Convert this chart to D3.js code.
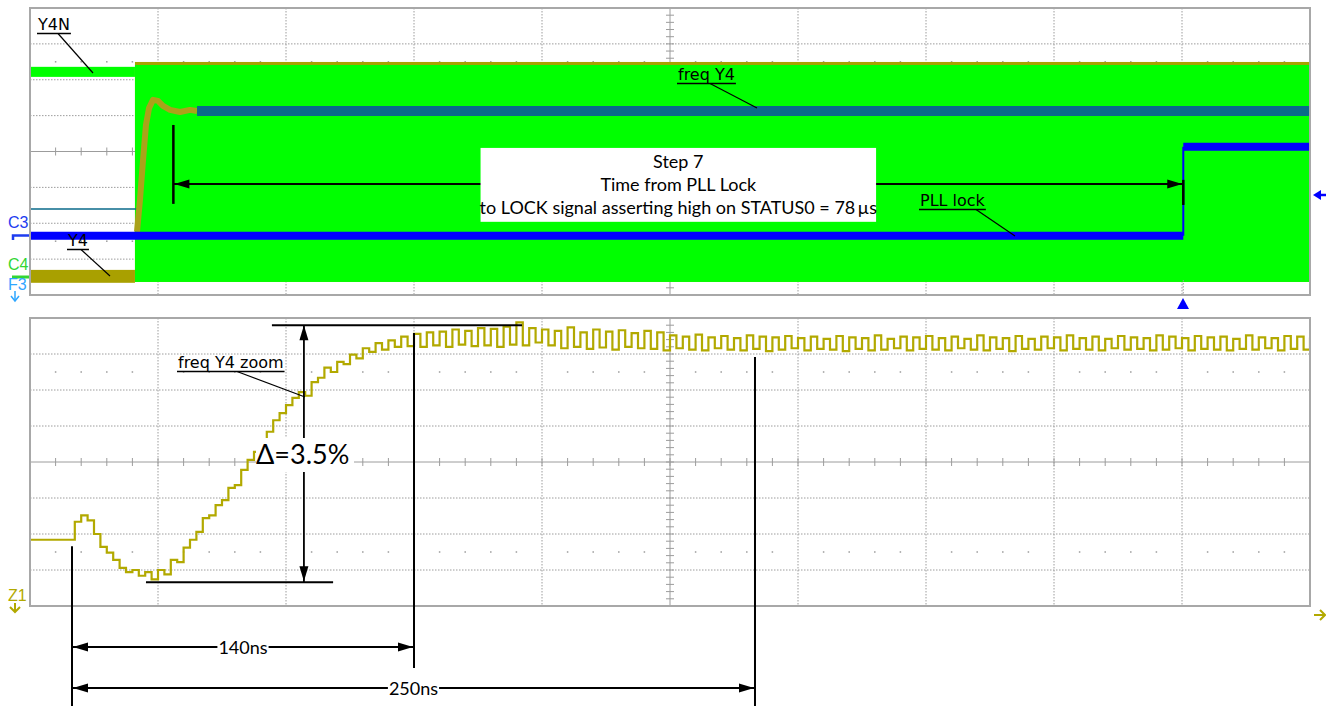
<!DOCTYPE html>
<html>
<head>
<meta charset="utf-8">
<script src="https://cdn.jsdelivr.net/npm/d3@7"></script>
<style>
body{margin:0;background:#fff}
svg{display:block}
.lbl{font-family:"DejaVu Sans",sans-serif;font-size:16px;fill:#000}
.note{font-family:Lato,"Open Sans",sans-serif;fill:#000}
.ch{font-family:"Liberation Sans",Arial,sans-serif;font-size:16px}
</style>
</head>
<body>
<script>
// top screen: time in us (10 us/div), level in divisions
var clockStart=8.2
var y4nIdleLevel=[2.36,2.08]
var y4IdleLevel=[-3.30,-3.66]
var clockTime=[8.2,100]
var clockLevel=[2.44,-3.58]
var pllTime=[0,90.1,90.1,100]
var pllLevel=[-2.35,-2.35,0.13,0.13]
var freqIdleLevel=-1.60
var freqTime=[8.36,8.59,8.83,9.06,9.30,9.61,10.0,10.39,10.94,11.72,12.5,13.05]
var freqLevel=[-2.24,-1.35,-0.24,0.74,1.21,1.44,1.41,1.27,1.16,1.10,1.16,1.13]
var freqSettledTime=[13.05,100]
var freqSettledLevel=1.13
var lockMarks=[11.2,90.1]
var lockArrowLevel=-0.906
var boxLines=["Step 7","Time from PLL Lock","to LOCK signal asserting high on STATUS0 = 78\u2009\u00b5s"]

// bottom screen: time in ns (50 ns/div), freq error in % (0.5 %/div), one sample per 2.5 ns
var zoomStep=2.5
var zoomLevel=[
-1.08,-1.08,-1.08,-1.08,-1.08,-1.08,-1.08,-0.83,-0.74,-0.81,
-1.00,-1.18,-1.26,-1.36,-1.47,-1.53,-1.50,-1.58,-1.53,-1.63,
-1.50,-1.56,-1.36,-1.39,-1.19,-1.08,-0.97,-0.78,-0.74,-0.60,
-0.53,-0.36,-0.32,-0.11,0.03,0.14,0.31,0.42,0.58,0.68,
0.79,0.89,0.97,0.92,1.11,1.17,1.31,1.25,1.39,1.36,
1.49,1.44,1.58,1.53,1.65,1.56,1.69,1.60,1.74,1.61,
1.78,1.60,1.80,1.62,1.81,1.60,1.84,1.63,1.82,1.61,
1.86,1.62,1.85,1.60,1.88,1.63,1.94,1.62,1.86,1.66,
1.84,1.62,1.82,1.58,1.87,1.60,1.80,1.57,1.84,1.59,
1.81,1.56,1.83,1.60,1.79,1.58,1.82,1.57,1.80,1.55,
1.76,1.58,1.74,1.56,1.77,1.55,1.73,1.58,1.75,1.56,
1.72,1.55,1.76,1.57,1.74,1.54,1.73,1.56,1.75,1.58,
1.72,1.55,1.74,1.57,1.71,1.56,1.75,1.54,1.73,1.57,
1.72,1.55,1.76,1.56,1.71,1.58,1.74,1.55,1.73,1.57,
1.75,1.56,1.72,1.55,1.74,1.58,1.71,1.56,1.76,1.55,
1.73,1.57,1.72,1.54,1.75,1.57,1.71,1.56,1.74,1.58,
1.73,1.55,1.76,1.57,1.72,1.56,1.74,1.55,1.71,1.58,
1.75,1.56,1.73,1.57,1.72,1.55,1.76,1.56,1.74,1.58,
1.72,1.55,1.75,1.57,1.73,1.56,1.74,1.55,1.71,1.57,
1.76,1.56,1.73,1.58,1.72,1.55,1.75,1.57,1.74,1.56,
1.73]
var deltaRefs=[1.90,-1.67]
var deltaTime=[107]
var deltaRefSpan=[[94.5,192.2],[45.3,118.4]]
var deltaLabel="\u0394=3.5%"
var timeMarks=[16.4,150,283.2]
var markTop=[-1.17,1.79,1.46]
var timeLabels=["140ns","250ns"]

var canvas={width:1326,height:706}
var left=30,right=1310
var topBox={top:8,bottom:295}
var botBox={top:318,bottom:606}
var olive="#a9a000",olive2="#b2a900",green="#00ff00",teal="#0a6a8a",blue="#0000ff",gridColor="#9c9c9c"

var svg=d3.select("body").append("svg")
          .attr("width",canvas.width)
          .attr("height",canvas.height)

var xTop=d3.scaleLinear().domain([0,100]).range([left,right])
var yTop=d3.scaleLinear().domain([-4,4]).range([topBox.bottom,topBox.top])
var xBot=d3.scaleLinear().domain([0,500]).range([left,right])
var yBot=d3.scaleLinear().domain([-2,2]).range([botBox.bottom,botBox.top])

var drawGrid=function(box){
  var g=svg.append("g")
  var xDiv=d3.scaleLinear().domain([0,10]).range([left,right])
  var yDiv=d3.scaleLinear().domain([0,8]).range([box.top,box.bottom])
  g.selectAll(".v").data([1,2,3,4,6,7,8,9]).enter().append("line")
   .attr("x1",function(d){return xDiv(d)}).attr("x2",function(d){return xDiv(d)})
   .attr("y1",box.top).attr("y2",box.bottom)
   .attr("stroke",gridColor).attr("stroke-dasharray","1.5,1.5")
  g.selectAll(".h").data([1,2,3,5,6,7]).enter().append("line")
   .attr("y1",function(d){return yDiv(d)}).attr("y2",function(d){return yDiv(d)})
   .attr("x1",left).attr("x2",right)
   .attr("stroke",gridColor).attr("stroke-dasharray","1.5,1.5")
  g.append("line").attr("x1",xDiv(5)).attr("x2",xDiv(5)).attr("y1",box.top).attr("y2",box.bottom).attr("stroke",gridColor)
  g.append("line").attr("y1",yDiv(4)).attr("y2",yDiv(4)).attr("x1",left).attr("x2",right).attr("stroke",gridColor)
  //minor ticks on the centre cross
  g.selectAll(".tx").data(d3.range(1,50)).enter().append("line")
   .attr("x1",function(d){return xDiv(d/5)}).attr("x2",function(d){return xDiv(d/5)})
   .attr("y1",yDiv(4)-4).attr("y2",yDiv(4)+4).attr("stroke",gridColor)
  g.selectAll(".ty").data(d3.range(1,40)).enter().append("line")
   .attr("y1",function(d){return yDiv(d/5)}).attr("y2",function(d){return yDiv(d/5)})
   .attr("x1",xDiv(5)-4).attr("x2",xDiv(5)+4).attr("stroke",gridColor)
  //dots
  var dots=[]
  ;[1.5,6.5].forEach(function(r){d3.range(1,50).forEach(function(k){if(k%5!=0)dots.push([k/5,r])})})
  g.selectAll(".dot").data(dots).enter().append("rect")
   .attr("x",function(d){return xDiv(d[0])-0.75}).attr("y",function(d){return yDiv(d[1])-0.75})
   .attr("width",1.5).attr("height",1.5).attr("fill",gridColor)
}

var drawBorder=function(box){
  svg.append("rect").attr("x",left).attr("y",box.top).attr("width",right-left).attr("height",box.bottom-box.top)
     .attr("fill","none").attr("stroke","#a8a8a8").attr("stroke-width",2)
}

var arrowHead=function(x,y,dir){
  var L=15,W=4.5,p
  if(dir=="left")p=[[x,y],[x+L,y-W],[x+L,y+W]]
  if(dir=="right")p=[[x,y],[x-L,y-W],[x-L,y+W]]
  if(dir=="up")p=[[x,y],[x-W,y+L],[x+W,y+L]]
  if(dir=="down")p=[[x,y],[x-W,y-L],[x+W,y-L]]
  svg.append("path").attr("d","M"+p.join("L")+"Z").attr("fill","#000")
}

var line=function(x1,y1,x2,y2,w,c){
  return svg.append("line").attr("x1",x1).attr("y1",y1).attr("x2",x2).attr("y2",y2)
            .attr("stroke",c||"#000").attr("stroke-width",w||1.5)
}

var callout=function(text,x,y,sx,ex,ey){
  var t=svg.append("text").attr("class","lbl").attr("x",x).attr("y",y).text(text)
  var w=t.node().getComputedTextLength()
  line(x-1,y+3.5,x+w+1,y+3.5,1.5)
  line(sx,y+3.5,ex,ey,1.2)
}

drawGrid(topBox)
drawGrid(botBox)

svg.append("clipPath").attr("id","clipTop").append("rect")
   .attr("x",left).attr("y",topBox.top).attr("width",right-left).attr("height",topBox.bottom-topBox.top)
svg.append("clipPath").attr("id","clipBot").append("rect")
   .attr("x",left).attr("y",botBox.top).attr("width",right-left).attr("height",botBox.bottom-botBox.top)

//top screen traces
var topG=svg.append("g").attr("clip-path","url(#clipTop)")
topG.append("rect")
   .attr("x",xTop(0)).attr("width",xTop(clockStart)-xTop(0))
   .attr("y",yTop(y4nIdleLevel[0])).attr("height",yTop(y4nIdleLevel[1])-yTop(y4nIdleLevel[0]))
   .attr("fill",green)
topG.append("rect")
   .attr("x",xTop(0)).attr("width",xTop(clockStart)-xTop(0))
   .attr("y",yTop(y4IdleLevel[0])).attr("height",yTop(y4IdleLevel[1])-yTop(y4IdleLevel[0]))
   .attr("fill",olive)
topG.append("rect")
   .attr("x",xTop(clockTime[0])).attr("width",xTop(clockTime[1])-xTop(clockTime[0]))
   .attr("y",yTop(clockLevel[0])-2).attr("height",yTop(clockLevel[1])-yTop(clockLevel[0])+4)
   .attr("fill",olive)
topG.append("rect")
   .attr("x",xTop(clockTime[0])).attr("width",xTop(clockTime[1])-xTop(clockTime[0]))
   .attr("y",yTop(clockLevel[0])+1).attr("height",yTop(clockLevel[1])-yTop(clockLevel[0])+1)
   .attr("fill",green)
topG.append("line")
   .attr("x1",xTop(0)).attr("x2",xTop(freqTime[0]))
   .attr("y1",yTop(freqIdleLevel)).attr("y2",yTop(freqIdleLevel))
   .attr("stroke",teal).attr("stroke-width",1.5)
topG.append("path")
   .datum(d3.zip(freqTime,freqLevel))
   .attr("d",d3.line().x(function(d){return xTop(d[0])}).y(function(d){return yTop(d[1])}))
   .attr("fill","none").attr("stroke","#aaa21a").attr("stroke-width",6).attr("stroke-linejoin","round")
topG.append("line")
   .attr("x1",xTop(freqSettledTime[0])).attr("x2",xTop(freqSettledTime[1]))
   .attr("y1",yTop(freqSettledLevel)).attr("y2",yTop(freqSettledLevel))
   .attr("stroke",teal).attr("stroke-width",10)
//PLL lock: thick levels, thin edge
d3.range(pllTime.length-1).forEach(function(i){
  var flat=pllLevel[i]==pllLevel[i+1]
  topG.append("line")
     .attr("x1",xTop(pllTime[i])).attr("x2",xTop(pllTime[i+1]))
     .attr("y1",yTop(pllLevel[i])).attr("y2",yTop(pllLevel[i+1]))
     .attr("stroke",blue).attr("stroke-width",flat?8:2)
})

//step 7 annotation
var xa=xTop(lockMarks[0]),xb=xTop(lockMarks[1]),ya=yTop(lockArrowLevel)
line(xa,yTop(0.74),xa,yTop(-1.46),2.5)
line(xb,yTop(-0.79),xb,yTop(-1.49),2.5)
line(xa,ya,xb,ya,1.8)
arrowHead(xa+1,ya,"left")
arrowHead(xb-1,ya,"right")
svg.append("rect").attr("x",xTop(35.2)).attr("y",yTop(0.10))
   .attr("width",xTop(66.1)-xTop(35.2)).attr("height",yTop(-1.96)-yTop(0.10)).attr("fill","#fff")
svg.selectAll(".box").data(boxLines).enter().append("text")
   .attr("class","note").attr("font-size",18).attr("text-anchor","middle")
   .attr("x",(xTop(35.2)+xTop(66.1))/2)
   .attr("y",function(d,i){return 167.5+i*23})
   .text(function(d){return d})

callout("Y4N",38,30,58,93,73)
callout("Y4",68,246,81,110,276)
callout("freq Y4",678,80,710,757,108)
callout("PLL lock",920,206,976,1015,236)

//trigger markers
line(xTop(lockMarks[1]),280,xTop(lockMarks[1]),295,1,gridColor).attr("stroke-dasharray","1.5,1.5")
svg.append("path").attr("d","M1183,298L1177,309L1189,309Z").attr("fill",blue)
svg.append("path").attr("d","M1313,195L1321,190L1321,200Z").attr("fill",blue)
line(1320,195,1326,195,2.5,blue)

//channel tags
svg.append("text").attr("class","ch").attr("x",8).attr("y",228).attr("fill","#1e3cf0").text("C3")
svg.append("path").attr("d","M13,240V235.5H30").attr("fill","none").attr("stroke","#1e3cf0").attr("stroke-width",2.5)
svg.append("text").attr("class","ch").attr("x",8).attr("y",270).attr("fill","#33d633").text("C4")
line(12,277,30,277,3,"#33d633")
svg.append("text").attr("class","ch").attr("x",8).attr("y",290).attr("fill","#2ea6ff").text("F3")
line(15,291,15,300,1.5,"#2ea6ff")
svg.append("path").attr("d","M11,296L15,301L19,296").attr("fill","none").attr("stroke","#2ea6ff").attr("stroke-width",1.5)
svg.append("text").attr("class","ch").attr("x",8).attr("y",601).attr("fill",olive2).text("Z1")
line(15,603,15,612,2,olive2)
svg.append("path").attr("d","M10,607L15,612L20,607").attr("fill","none").attr("stroke",olive2).attr("stroke-width",2)
line(1314,615,1325,615,2,olive2)
svg.append("path").attr("d","M1320,610L1325,615L1320,620").attr("fill","none").attr("stroke",olive2).attr("stroke-width",2)

//bottom screen trace
var botG=svg.append("g").attr("clip-path","url(#clipBot)")
botG.append("path")
   .datum(zoomLevel)
   .attr("d",d3.line().curve(d3.curveStepAfter)
              .x(function(d,i){return xBot(i*zoomStep)})
              .y(function(d){return yBot(d)}))
   .attr("fill","none").attr("stroke",olive2).attr("stroke-width",2.2)

drawBorder(topBox)
drawBorder(botBox)

//delta annotation
var xd=xBot(deltaTime[0])
deltaRefs.forEach(function(v,i){line(xBot(deltaRefSpan[i][0]),yBot(v),xBot(deltaRefSpan[i][1]),yBot(v),2)})
line(xd,yBot(deltaRefs[0]),xd,yBot(deltaRefs[1]),1.8)
arrowHead(xd,yBot(deltaRefs[0]),"up")
arrowHead(xd,yBot(deltaRefs[1])-1,"down")
callout("freq Y4 zoom",178,368,237,305,397)
svg.append("rect").attr("x",256).attr("y",438).attr("width",98).attr("height",34).attr("fill","#fff")
svg.append("text").attr("class","note").attr("font-size",27).attr("x",256).attr("y",464).text(deltaLabel)

//time marks
var markBottom=[706,668,706]
timeMarks.forEach(function(t,i){line(xBot(t),yBot(markTop[i]),xBot(t),markBottom[i],2)})
var rows=[647,688]
timeLabels.forEach(function(lab,i){
  var x1=xBot(timeMarks[0]),x2=xBot(timeMarks[i+1]),y=rows[i]
  line(x1,y,x2,y,1.8)
  arrowHead(x1+1,y,"left")
  arrowHead(x2-1,y,"right")
  var t=svg.append("text").attr("class","note").attr("font-size",18)
           .attr("text-anchor","middle").attr("x",(x1+x2)/2).attr("y",y+6.5).text(lab)
  var w=t.node().getComputedTextLength()
  svg.insert("rect","text:last-of-type").attr("x",(x1+x2)/2-w/2-1).attr("y",y-9).attr("width",w+2).attr("height",18).attr("fill","#fff")
})
</script>
</body>
</html>
